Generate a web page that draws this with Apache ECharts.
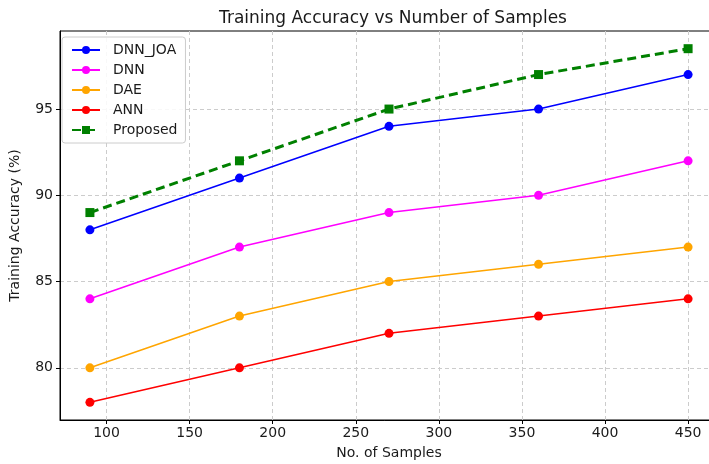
<!DOCTYPE html>
<html>
<head>
<meta charset="utf-8">
<script src="https://cdn.jsdelivr.net/npm/echarts@6/dist/echarts.min.js"></script>
<style>
  html, body { margin: 0; padding: 0; background: #fff; }
  #chart { width: 709px; height: 464px; }
</style>
</head>
<body>
<div id="chart"></div>
<script>
var samples = [90, 180, 270, 360, 450]
var dnnJoa = [88, 91, 94, 95, 97]
var dnn = [84, 87, 89, 90, 92]
var dae = [80, 83, 85, 86, 87]
var ann = [78, 80, 82, 83, 84]
var proposed = [89, 92, 95, 97, 98.5]
var xTicks = [100, 150, 200, 250, 300, 350, 400, 450]
var yTicks = [80, 85, 90, 95]

var font = 'DejaVu Sans'

function pairs(vals) {
  return samples.map(function (s, i) {
    return [s, vals[i]]
  })
}

function lineSeries(name, vals, color) {
  return {
    name: name,
    type: 'line',
    data: pairs(vals),
    symbol: 'circle',
    symbolSize: 9,
    itemStyle: { color: color },
    lineStyle: { color: color, width: 1.5 },
    emphasis: { disabled: true },
  }
}

var chart = echarts.init(document.getElementById('chart'))
chart.setOption({
  animation: false,
  backgroundColor: '#fff',
  title: {
    text: 'Training Accuracy vs Number of Samples',
    left: 388,
    textAlign: 'center',
    top: 5,
    textStyle: { fontFamily: font, fontSize: 17, fontWeight: 'normal', color: '#1a1a1a' },
  },
  legend: {
    left: 62,
    top: 37,
    orient: 'vertical',
    itemWidth: 28,
    itemHeight: 10,
    itemGap: 6,
    padding: [6, 8, 6, 9],
    borderColor: '#ccc',
    borderWidth: 1,
    borderRadius: 3,
    backgroundColor: 'rgba(255,255,255,0.85)',
    textStyle: { fontFamily: font, fontSize: 14, color: '#1a1a1a', padding: [0, 0, 0, 8] },
    data: ['DNN_JOA', 'DNN', 'DAE', 'ANN', 'Proposed'],
  },
  grid: {
    left: 60,
    width: 658,
    top: 31,
    bottom: 44,
    outerBoundsMode: 'none',
    containLabel: false,
    show: true,
    borderColor: '#000',
    borderWidth: 1,
  },
  xAxis: {
    type: 'value',
    min: 72,
    max: 468,
    name: 'No. of Samples',
    nameLocation: 'middle',
    nameGap: 26,
    nameTextStyle: { fontFamily: font, fontSize: 14, color: '#1a1a1a' },
    axisLine: { lineStyle: { color: '#000' } },
    axisTick: { length: 4, lineStyle: { color: '#000' }, customValues: xTicks },
    axisLabel: { fontFamily: font, fontSize: 14, color: '#1a1a1a', margin: 6, customValues: xTicks },
    splitLine: { show: true, lineStyle: { color: '#ccc', type: [4, 3] } },
  },
  yAxis: {
    type: 'value',
    min: 76.975,
    max: 99.525,
    name: 'Training Accuracy (%)',
    nameLocation: 'middle',
    nameGap: 38,
    nameTextStyle: { fontFamily: font, fontSize: 14, color: '#1a1a1a' },
    axisLine: { show: true, lineStyle: { color: '#000' } },
    axisTick: { show: true, length: 4, lineStyle: { color: '#000' }, customValues: yTicks },
    axisLabel: { fontFamily: font, fontSize: 14, color: '#1a1a1a', margin: 7, customValues: yTicks },
    splitLine: { show: true, lineStyle: { color: '#ccc', type: [4, 3] } },
  },
  series: [
    lineSeries('DNN_JOA', dnnJoa, '#0000ff'),
    lineSeries('DNN', dnn, '#ff00ff'),
    lineSeries('DAE', dae, '#ffa500'),
    lineSeries('ANN', ann, '#ff0000'),
    {
      name: 'Proposed',
      type: 'line',
      data: pairs(proposed),
      symbol: 'rect',
      symbolSize: 9,
      itemStyle: { color: '#008000' },
      lineStyle: { color: '#008000', width: 3, type: [9, 5] },
      emphasis: { disabled: true },
      z: 3,
    },
  ],
})
</script>
</body>
</html>
